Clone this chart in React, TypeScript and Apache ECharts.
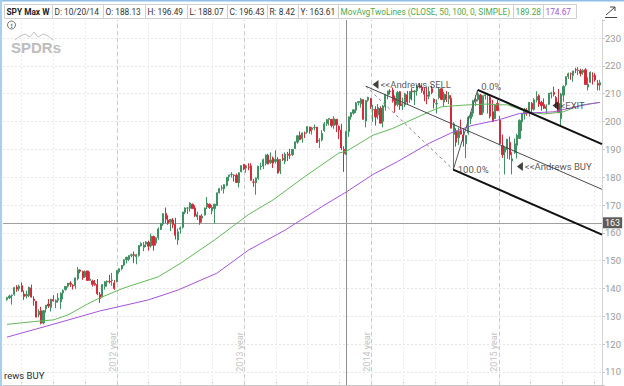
import React, { useEffect, useRef } from "react";
import * as echarts from "echarts";

// ---- weekly SPY candles (Monday of each week) ----
const FIRST_WEEK = "2012-02-20";
const opens = [
  136.0,136.6,137.4,137.9,140.5,140.0,141.0,138.0,137.3,137.5,
  140.2,136.2,135.4,130.5,132.0,127.6,132.7,134.4,133.2,136.0,
  135.0,135.8,135.2,138.4,139.6,140.8,141.9,141.2,141.0,143.5,
  146.6,146.1,144.2,146.3,142.9,142.7,141.8,141.4,137.8,137.0,
  140.8,142.3,142.6,142.9,142.0,142.4,146.0,147.1,148.4,150.3,
  150.5,151.9,152.2,151.4,151.9,155.3,154.8,156.0,156.6,155.3,
  158.7,156.3,158.3,161.2,163.2,167.0,164.6,163.8,164.6,163.0,
  157.4,161.3,162.0,167.4,168.9,168.8,170.3,168.9,165.7,166.1,
  165.3,166.4,169.3,170.3,167.9,168.7,169.8,174.4,176.0,175.8,
  177.0,180.2,180.9,180.7,180.7,178.0,181.9,184.6,183.3,183.7,
  184.1,178.3,178.0,179.6,183.7,184.0,184.9,187.9,185.2,186.9,
  185.6,186.4,182.2,186.7,185.7,188.3,188.0,188.1,190.3,192.6,
  195.1,193.8,195.9,196.2,198.0,197.1,197.8,198.0,193.0,193.4,
  196.8,199.3,200.8,200.8,198.6,200.8,198.3,197.0,190.0,188.13,
  196.4,201.7,203.0,204.1,206.8,206.4,207.9,200.2,207.7,208.3,
  204.2,204.4,202.4,204.7,200.1,205.3,209.6,210.9,211.3,208.4,
  206.1,210.7,205.6,206.0,209.6,208.1,211.0,210.6,211.0,212.7,
  212.3,211.0,209.5,209.1,211.8,208.0,206.3,208.6,211.8,207.0,
  209.7,208.2,208.4,195.4,196.5,194.2,196.8,195.2,192.0,195.9,
  201.0,203.0,207.3,207.9,209.5,203.3,209.3,209.4,208.8,203.5,
  201.0,206.5,200.5,191.3,189.0,189.9,192.5,185.8,188.8,191.5,
  193.9,199.9,202.7,204.1,203.6,206.5,204.3,207.7,209.3,206.9,
  206.1,204.6,206.2,210.0,210.5,208.6,206.5,201.0,209.5,213.2,
  216.2,217.2,216.5,218.6,218.3,218.3,217.7,218.6,212.4,214.1,
  216.4,216.6,213.7,213.1,
];
const highs = [
  137.0,137.8,137.8,140.6,141.2,141.4,142.2,139.3,139.2,140.7,
  141.4,137.2,135.5,132.5,133.4,132.3,134.0,136.2,136.3,137.6,
  136.1,138.3,138.6,139.7,140.8,142.0,142.6,141.5,143.9,147.7,
  146.9,146.4,146.5,146.3,146.0,143.2,143.0,143.4,138.7,141.4,
  142.7,142.9,144.9,145.6,143.0,146.6,147.2,148.4,150.4,151.4,
  152.0,152.5,153.3,152.4,155.5,156.6,156.7,157.0,157.2,159.7,
  159.0,158.4,161.9,163.5,167.0,169.1,166.3,164.8,165.3,165.4,
  161.5,162.3,167.5,169.2,169.2,171.0,170.5,169.9,167.6,166.2,
  166.8,169.1,172.9,170.5,170.0,170.3,174.4,176.1,177.1,177.5,
  180.0,180.8,181.8,181.0,181.3,181.7,184.2,184.7,184.5,185.0,
  185.0,179.4,179.9,184.0,185.2,186.7,188.2,188.4,188.9,187.4,
  189.7,187.2,186.4,188.4,188.9,189.1,190.2,190.0,192.8,195.0,
  196.4,196.1,196.4,198.3,198.2,198.1,198.9,198.0,194.0,196.9,
  199.8,200.9,201.2,200.9,201.9,200.9,198.6,199.2,191.1,196.49,
  201.8,203.3,204.3,207.0,207.3,208.5,208.0,207.8,208.9,208.5,
  206.0,205.5,206.3,205.5,206.0,209.8,211.1,211.6,212.2,209.4,
  211.0,211.0,208.6,210.3,211.0,211.0,212.0,211.3,213.1,213.8,
  213.1,212.3,212.3,212.6,212.9,208.3,208.0,212.3,212.0,210.7,
  211.0,210.6,209.5,199.8,197.6,197.9,200.7,197.3,195.0,202.0,
  203.4,207.8,209.5,211.0,209.9,209.4,210.1,210.3,209.9,207.8,
  206.0,207.8,201.9,195.3,191.0,193.7,194.6,189.0,193.9,195.6,
  200.8,202.8,204.9,204.8,207.0,207.0,208.4,210.9,209.8,207.5,
  208.3,206.2,210.2,210.7,212.5,209.2,211.7,210.3,213.0,216.3,
  217.6,217.6,218.2,219.3,219.6,219.0,218.8,219.2,215.9,218.0,
  217.7,217.4,214.9,215.0,
];
const lows = [
  135.6,136.2,134.2,137.4,138.8,139.0,138.7,135.9,136.4,136.9,
  136.7,133.8,129.6,129.6,127.1,127.1,131.3,133.0,131.7,135.3,
  132.9,134.9,132.6,136.1,139.2,140.3,140.5,139.6,139.9,142.9,
  145.5,143.1,143.8,142.7,142.7,140.7,141.0,137.6,134.8,136.8,
  139.6,140.6,141.8,141.0,139.5,142.2,145.3,146.5,148.0,149.0,
  149.8,151.2,149.1,148.7,151.4,155.1,153.4,154.9,153.6,154.7,
  153.6,155.4,157.5,161.0,162.5,163.5,162.9,160.6,161.7,157.6,
  155.7,159.7,161.5,166.7,166.8,167.6,168.6,165.7,164.6,162.9,
  163.7,166.2,168.6,168.6,166.6,163.3,169.7,174.1,175.2,174.1,
  176.7,178.6,179.9,178.4,177.9,176.3,181.8,182.5,181.6,182.5,
  178.8,176.5,173.7,179.1,182.6,182.9,184.2,184.7,184.8,183.3,
  184.9,181.3,181.1,185.8,184.7,185.8,186.6,187.6,190.2,192.0,
  193.3,192.4,194.1,195.6,195.6,195.3,196.8,192.3,190.5,192.9,
  196.3,198.4,198.6,197.9,197.4,196.2,193.7,189.7,181.9,188.07,
  194.5,200.7,202.5,203.1,205.8,205.0,200.7,197.9,207.1,204.5,
  199.9,198.6,200.8,199.4,197.9,203.9,208.0,209.7,206.8,203.2,
  205.4,204.2,204.1,205.2,206.0,206.7,207.6,205.9,209.3,211.9,
  210.3,207.3,206.2,208.0,209.8,204.7,202.9,208.0,207.7,205.3,
  207.0,206.3,197.6,182.4,191.0,191.6,195.3,191.0,186.9,195.3,
  199.1,201.7,205.6,207.3,202.4,202.4,207.9,202.9,201.2,199.8,
  200.9,203.8,191.9,186.9,181.0,186.6,186.3,181.0,188.4,186.7,
  193.7,196.6,200.7,202.1,201.8,202.8,203.9,206.9,205.2,203.9,
  204.5,202.8,205.9,208.3,209.0,204.9,203.0,198.7,207.1,212.6,
  215.3,215.0,214.3,217.4,216.7,216.2,216.8,213.3,211.2,213.8,
  213.3,214.3,211.2,211.2,
];
const closes = [
  136.7,137.3,137.6,140.3,139.7,140.8,139.0,137.1,137.9,140.4,
  136.9,135.7,129.7,131.8,127.5,132.0,134.0,133.7,136.1,135.5,
  135.7,136.5,138.3,139.3,140.7,141.9,141.5,140.9,143.8,146.7,
  146.2,143.9,146.1,142.9,143.4,141.5,141.3,138.1,136.4,141.4,
  142.4,142.6,142.4,143.0,140.0,146.4,147.1,148.3,150.3,151.2,
  151.8,152.1,151.9,152.1,155.4,156.2,155.6,156.7,155.2,158.8,
  155.5,158.2,161.4,163.4,166.9,164.9,163.5,164.8,162.9,159.1,
  160.4,161.8,167.5,168.9,168.9,170.7,168.7,166.1,166.6,163.7,
  166.0,168.9,170.7,169.1,169.2,170.3,174.4,175.9,176.2,177.3,
  180.0,180.8,181.0,180.6,178.1,181.6,184.2,182.9,184.1,183.6,
  178.9,178.2,179.7,184.0,183.9,186.3,188.0,184.7,186.2,185.0,
  186.4,181.5,186.4,186.3,188.3,187.9,187.9,190.0,192.7,194.9,
  193.5,195.9,195.8,198.2,196.6,197.7,197.9,192.5,193.2,195.7,
  199.2,200.7,201.1,198.6,201.0,198.8,197.0,190.5,188.5,196.43,
  201.7,203.2,204.2,206.7,207.2,208.0,200.8,207.5,208.7,205.4,
  204.3,201.6,205.0,199.4,205.6,209.8,211.0,210.7,207.5,205.8,
  210.4,205.7,206.4,210.0,207.0,210.8,210.7,211.0,212.4,212.5,
  211.1,209.8,209.1,210.8,210.5,206.9,206.5,211.7,207.9,209.9,
  207.9,209.4,197.6,199.2,192.6,196.5,195.5,192.9,195.0,201.6,
  203.3,207.5,207.9,210.0,202.5,209.3,209.6,209.6,201.9,200.0,
  206.0,203.9,192.0,188.1,190.5,193.7,188.0,186.6,192.0,195.1,
  200.4,202.8,204.4,203.1,206.9,204.5,207.8,209.0,206.3,205.7,
  204.8,205.5,210.2,210.3,209.8,206.5,203.2,209.9,212.6,216.1,
  217.2,217.1,218.2,218.5,218.5,217.3,218.4,213.3,213.4,217.7,
  216.3,215.0,213.1,214.0,
];

// ---- moving averages ----
const ma50Dates = [
  "2012-02-20","2012-05-07","2012-07-02","2012-08-13","2012-10-08","2012-11-12",
  "2013-01-21","2013-04-29","2013-07-01","2013-10-07","2014-01-13","2014-03-24",
  "2014-06-23","2014-09-29","2014-10-20","2015-01-05","2015-03-02","2015-06-15",
  "2015-07-20","2015-09-21","2015-11-30","2015-12-28","2016-01-25","2016-03-21",
  "2016-05-09","2016-07-04","2016-08-22","2016-10-17",
];
const ma50Values = [
  127.1,128.1,128.7,130.5,134.4,136.6,
  140.2,144.2,149.0,157.4,166.6,171.8,
  180.2,188.7,189.28,195.1,197.5,203.5,
  205.3,205.9,206.3,206.0,206.0,203.5,
  202.7,203.5,205.9,206.9,
];
const ma100Dates = [
  "2012-02-20","2012-06-25","2012-11-12","2013-04-01","2013-06-24","2013-10-14",
  "2014-01-13","2014-04-28","2014-08-11","2014-10-20","2015-01-05","2015-03-16",
  "2015-06-15","2015-08-24","2015-10-19","2015-12-28","2016-02-29","2016-06-06",
  "2016-07-18","2016-09-12","2016-10-17",
];
const ma100Values = [
  122.5,126.9,131.9,135.9,139.4,145.5,
  153.8,161.0,169.4,174.67,181.0,185.6,
  192.2,196.3,198.7,200.5,202.9,203.5,
  204.7,206.2,206.9,
];

// ---- axis furniture ----
const yearLineDates = ["2013-01-01", "2014-01-01", "2015-01-01", "2016-01-01"];
const yearLabels = ["2012 year", "2013 year", "2014 year", "2015 year"];
const quarterDates = [
  "2012-04-01","2012-07-01","2012-10-01","2013-01-01","2013-04-01","2013-07-01","2013-10-01",
  "2014-01-01","2014-04-01","2014-07-01","2014-10-01","2015-01-01","2015-04-01","2015-07-01",
  "2015-10-01","2016-01-01","2016-04-01","2016-07-01","2016-10-01",
];
const X_MIN = "2012-02-08T14:10:00Z";
const X_MAX = "2016-10-22T12:00:00Z";
const Y_MIN = 105.3;
const Y_MAX = 236.5;

// ---- cursor / header ----
const CURSOR_DATE = "2014-10-20";
const CURSOR_INDEX = 139;
const CURSOR_PRICE = 163.61;
const MA50_AT_CURSOR = 189.28;
const MA100_AT_CURSOR = 174.67;

// ---- Andrews pitchfork anchors and signals ----
const forkPivot = { date: "2014-12-15", price: 212.7 };
const forkLow = { date: "2015-08-23", price: 182.7 };
const forkHigh = { date: "2015-11-01", price: 211.4 };
const signalDates = ["2015-01-12", "2016-03-01", "2016-06-11"];
const signalPrices = [213.3, 183.8, 205.75];
const signalTexts = ["<<Andrews SELL", "<<Andrews BUY", "<EXIT"];

const DAY = 86400000;
const ts = (s: string) => Date.parse(s.includes("T") ? s : s + "T00:00:00Z");

const UP = "#3f9163";
const DOWN = "#d42b3b";
const GREEN_MA = "#62b95a";
const PURPLE_MA = "#a653d8";
const FONT = "Roboto";

export default function App() {
  const ref = useRef<HTMLDivElement>(null);

  useEffect(() => {
    document.body.style.margin = "0";
    if (!ref.current) return;
    const chart = echarts.init(ref.current, undefined, { renderer: "svg" });

    const t0 = ts(FIRST_WEEK);
    const candleData = closes.map((c, i) => [t0 + i * 7 * DAY, opens[i], c, lows[i], highs[i]]);
    const xMaxT = ts(X_MAX);

    const pT = ts(forkPivot.date), lT = ts(forkLow.date), hT = ts(forkHigh.date);
    const midT = (lT + hT) / 2;
    const midP = (forkLow.price + forkHigh.price) / 2;
    const slope = (midP - forkPivot.price) / (midT - pT);
    const medianEnd = [xMaxT, forkPivot.price + slope * (xMaxT - pT)];
    const upperEnd = [xMaxT, forkHigh.price + slope * (xMaxT - hT)];
    const lowerEnd = [xMaxT, forkLow.price + slope * (xMaxT - lT)];

    const markData: any[] = [];
    quarterDates.forEach((d) =>
      markData.push({ xAxis: ts(d), lineStyle: { color: "#ececec", type: [2, 2], width: 1 } })
    );
    yearLineDates.forEach((d) =>
      markData.push({ xAxis: ts(d), lineStyle: { color: "#cdcdcd", type: [4, 3], width: 1 } })
    );
    markData.push({ xAxis: ts(CURSOR_DATE), lineStyle: { color: "#909090", type: "solid", width: 1 } });
    markData.push({
      yAxis: CURSOR_PRICE,
      lineStyle: { color: "#a0a0a0", type: "solid", width: 1 },
      label: {
        show: true,
        position: "end",
        formatter: String(Math.floor(CURSOR_PRICE)),
        backgroundColor: "#5c5c5c",
        color: "#ffffff",
        fontSize: 9,
        fontFamily: FONT,
        padding: [1, 2, 1, 2],
        distance: 1,
      },
    });

    const seg = (a: number[], b: number[], color: string, width: number, type: any = "solid") => ({
      type: "line",
      data: [a, b],
      symbol: "none",
      lineStyle: { color, width, type },
      z: 4,
      silent: true,
    });

    const option: any = {
      animation: false,
      backgroundColor: "#ffffff",
      grid: { left: 3, right: 19, top: 20, bottom: 1 },
      xAxis: {
        type: "time",
        min: ts(X_MIN),
        max: xMaxT,
        axisLine: { show: true, lineStyle: { color: "#c6c6c6" } },
        axisLabel: { show: false },
        axisTick: {
          show: true,
          inside: true,
          length: 3,
          customValues: quarterDates.map(ts),
          lineStyle: { color: "#bdbdbd" },
        },
        splitLine: { show: false },
      },
      yAxis: {
        type: "value",
        position: "right",
        min: Y_MIN,
        max: Y_MAX,
        splitNumber: 13,
        axisLine: { show: true, lineStyle: { color: "#d4d4d4" } },
        axisTick: { show: true, length: 3, lineStyle: { color: "#c8c8c8" } },
        axisLabel: {
          color: "#9a9a9a",
          fontSize: 9.5,
          fontFamily: FONT,
          margin: 3,
          formatter: (v: number) => (Math.abs(v % 10) < 1e-6 ? String(Math.round(v)) : ""),
        },
        splitLine: {
          show: true,
          showMinLine: false,
          showMaxLine: false,
          lineStyle: { color: "#e6e6e6", type: [2, 2] },
        },
      },
      series: [
        {
          type: "candlestick",
          data: candleData,
          encode: { x: 0, y: [1, 2, 3, 4] },
          barWidth: 1.7,
          z: 2,
          itemStyle: { color: UP, color0: DOWN, borderColor: UP, borderColor0: DOWN, borderWidth: 1 },
          markLine: {
            silent: true,
            symbol: ["none", "none"],
            label: { show: false },
            data: markData,
            z: 1,
          },
        },
        {
          type: "line",
          data: ma50Dates.map((d, i) => [ts(d), ma50Values[i]]),
          symbol: "none",
          lineStyle: { color: GREEN_MA, width: 1 },
          z: 3,
        },
        {
          type: "line",
          data: ma100Dates.map((d, i) => [ts(d), ma100Values[i]]),
          symbol: "none",
          lineStyle: { color: PURPLE_MA, width: 1 },
          z: 3,
        },
        seg([pT, forkPivot.price], [lT, forkLow.price], "#8a8a8a", 1, [3, 3]),
        seg([lT, forkLow.price], [hT, forkHigh.price], "#555555", 1),
        seg([pT, forkPivot.price], medianEnd, "#4a4a4a", 1),
        seg([hT, forkHigh.price], upperEnd, "#111111", 2),
        seg([lT, forkLow.price], lowerEnd, "#111111", 2),
        {
          type: "scatter",
          z: 5,
          symbol: "triangle",
          symbolRotate: 90,
          symbolSize: [9, 6],
          itemStyle: { color: "#111111" },
          label: {
            show: true,
            position: "right",
            distance: 2,
            formatter: "{b}",
            color: "#2b2b2b",
            fontSize: 9.5,
            fontFamily: FONT,
          },
          data: signalDates.map((d, i) => ({ value: [ts(d), signalPrices[i]], name: signalTexts[i] })),
        },
        {
          type: "scatter",
          z: 5,
          symbolSize: 1,
          itemStyle: { color: "rgba(0,0,0,0)" },
          label: {
            show: true,
            position: "right",
            formatter: "{b}",
            color: "#2b2b2b",
            fontSize: 9.5,
            fontFamily: FONT,
          },
          data: [
            { value: [hT, forkHigh.price], name: "0.0%", label: { distance: 3, offset: [0, -3] } },
            { value: [lT, forkLow.price], name: "100.0%", label: { distance: 4 } },
          ],
        },
      ],
    };
    chart.setOption(option);

    // ---- overlays: header, logo, year labels ----
    const g: any[] = [];
    g.push({ type: "rect", shape: { x: 0, y: 0, width: 624, height: 1.5 }, style: { fill: "#8dbfe8" }, z: 100 });
    g.push({ type: "rect", shape: { x: 0, y: 0, width: 2, height: 386 }, style: { fill: "#a9cff0" }, z: 100 });

    const o = opens[CURSOR_INDEX], h = highs[CURSOR_INDEX], l = lows[CURSOR_INDEX], c = closes[CURSOR_INDEX];
    const [cy, cm, cd] = CURSOR_DATE.split("-");
    const cells = [
      { text: "SPY Max W", x0: 4, x1: 52, color: "#222", bold: true },
      { text: `D: ${cm}/${cd}/${cy.slice(2)}`, x0: 52, x1: 103, color: "#333" },
      { text: `O: ${o.toFixed(2)}`, x0: 103, x1: 145, color: "#333" },
      { text: `H: ${h.toFixed(2)}`, x0: 145, x1: 187, color: "#333" },
      { text: `L: ${l.toFixed(2)}`, x0: 187, x1: 227, color: "#333" },
      { text: `C: ${c.toFixed(2)}`, x0: 227, x1: 267, color: "#333" },
      { text: `R: ${(h - l).toFixed(2)}`, x0: 267, x1: 298, color: "#333" },
      { text: `Y: ${CURSOR_PRICE.toFixed(2)}`, x0: 298, x1: 338, color: "#333" },
      { text: "MovAvgTwoLines (CLOSE, 50, 100, 0, SIMPLE)", x0: 338, x1: 513, color: "#4fa94a" },
      { text: MA50_AT_CURSOR.toFixed(2), x0: 513, x1: 543, color: "#4fa94a" },
      { text: MA100_AT_CURSOR.toFixed(2), x0: 543, x1: 576, color: "#a653d8" },
    ];
    cells.forEach((cell) => {
      g.push({
        type: "rect",
        shape: { x: cell.x0 + 0.5, y: 4.5, width: cell.x1 - cell.x0, height: 14 },
        style: { fill: "#ffffff", stroke: "#d0d0d0", lineWidth: 1 },
        z: 100,
      });
      g.push({
        type: "text",
        x: cell.x0 + 2.5,
        y: 11.5,
        style: {
          text: cell.text,
          fill: cell.color,
          font: `${cell.bold ? "bold " : ""}8.3px ${FONT}`,
          verticalAlign: "middle",
          align: "left",
        },
        z: 101,
      });
    });
    // top-right icon
    g.push({ type: "line", shape: { x1: 606, y1: 15, x2: 615, y2: 7 }, style: { stroke: "#444", lineWidth: 1 }, z: 100 });
    g.push({ type: "polyline", shape: { points: [[610, 7], [615, 7], [615, 11]] }, style: { stroke: "#444", fill: null, lineWidth: 1 }, z: 100 });
    g.push({ type: "line", shape: { x1: 605, y1: 17.5, x2: 617, y2: 17.5 }, style: { stroke: "#444", lineWidth: 1 }, z: 100 });

    // info icon + logo
    g.push({ type: "circle", shape: { cx: 11.5, cy: 25, r: 4 }, style: { fill: "none", stroke: "#777", lineWidth: 1 }, z: 100 });
    g.push({ type: "text", x: 11.5, y: 25, style: { text: "!", fill: "#666", font: "bold 6px DejaVu Sans", align: "center", verticalAlign: "middle" }, z: 100 });
    g.push({
      type: "polyline",
      shape: { points: [[15, 40], [20, 36], [25, 34], [30, 37], [34, 32], [38, 37], [43, 34], [48, 36], [53, 40]] },
      style: { stroke: "#c4c4c4", fill: null, lineWidth: 1 },
      z: 100,
    });
    g.push({
      type: "text",
      x: 11,
      y: 47,
      style: { text: "SPDRs", fill: "#bdbdbd", font: "bold 15px Liberation Sans", verticalAlign: "middle", align: "left" },
      z: 100,
    });

    // year labels, placed from the axis
    const bottomY = chart.convertToPixel({ gridIndex: 0 }, [ts(X_MIN), Y_MIN])[1];
    yearLineDates.forEach((d, i) => {
      const px = chart.convertToPixel({ gridIndex: 0 }, [ts(d), Y_MIN])[0];
      g.push({
        type: "text",
        x: px - 4.5,
        y: bottomY - 33,
        rotation: Math.PI / 2,
        style: { text: yearLabels[i], fill: "#c4c4c4", font: `9px ${FONT}`, align: "center", verticalAlign: "middle" },
        z: 50,
      });
    });
    // the cut-off signal text at the lower-left edge
    g.push({
      type: "text",
      x: 4,
      y: 375,
      style: { text: "rews BUY", fill: "#2b2b2b", font: `9.5px ${FONT}`, verticalAlign: "middle", align: "left" },
      z: 50,
    });

    chart.setOption({ graphic: g });

    return () => chart.dispose();
  }, []);

  return <div ref={ref} style={{ width: 624, height: 386 }} />;
}
